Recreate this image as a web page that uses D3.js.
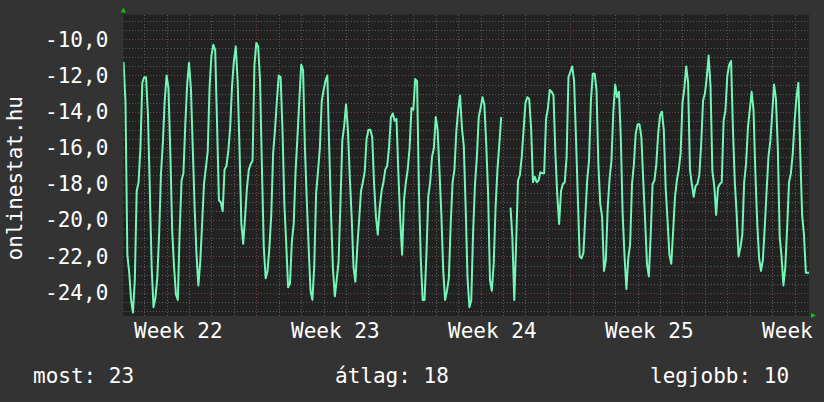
<!DOCTYPE html>
<html>
<head>
<meta charset="utf-8">
<script src="https://cdn.jsdelivr.net/npm/d3@7"></script>
<style>
  html, body { margin: 0; padding: 0; background: #333333; }
  svg { display: block; }
</style>
</head>
<body>
<div id="chart"></div>
<script>
// rank values sampled every 2 hours, one row per day,
// starting Tue 29 May 2012 00:00 (ISO week 22)
const startTime = Date.UTC(2012, 4, 29, 0, 0);
const stepHours = 2;
const ranks = [
  -11.3, -11.3, -13.5, -21.9, -22.9, -24.4, -25.1, -23.3, -18.4, -17.9, -16.0, -12.4,
  -12.1, -12.1, -14.1, -18.2, -22.6, -24.8, -24.3, -23.2, -20.8, -17.4, -15.7, -13.4,
  -12.0, -12.7, -16.3, -20.6, -22.6, -24.1, -24.4, -20.6, -17.8, -17.4, -14.7, -12.5,
  -11.3, -12.7, -16.0, -19.3, -21.9, -23.6, -22.3, -20.2, -18.0, -17.1, -16.2, -12.6,
  -10.9, -10.3, -10.6, -14.7, -18.9, -19.0, -19.5, -17.2, -17.0, -16.2, -14.9, -12.6,
  -11.2, -10.4, -12.3, -16.0, -20.2, -21.3, -19.8, -18.2, -17.2, -16.9, -16.7, -11.4,
  -10.2, -10.4, -12.3, -17.1, -21.5, -23.2, -22.8, -21.5, -19.7, -16.3, -15.0, -13.4,
  -12.0, -12.1, -15.0, -19.1, -21.3, -23.7, -23.5, -21.2, -20.2, -17.3, -15.4, -13.4,
  -11.4, -11.7, -16.0, -18.9, -21.5, -23.9, -24.4, -22.5, -18.5, -17.3, -16.0, -13.4,
  -12.8, -12.3, -12.0, -16.0, -19.7, -22.7, -24.2, -23.3, -22.3, -19.1, -15.6, -14.8,
  -13.6, -15.0, -17.6, -19.8, -22.6, -23.4, -21.5, -20.0, -18.4, -17.9, -17.3, -15.5,
  -15.0, -15.0, -15.4, -18.0, -19.8, -20.8, -19.3, -18.4, -17.9, -17.2, -17.0, -16.0,
  -14.3, -14.1, -14.5, -14.4, -17.4, -20.0, -21.9, -18.9, -17.9, -17.2, -16.0, -13.8,
  -13.9, -12.2, -12.3, -18.4, -22.2, -24.4, -24.4, -21.9, -18.7, -17.9, -16.5, -16.0,
  -14.3, -15.0, -17.3, -19.7, -22.8, -24.4, -23.9, -23.2, -20.2, -17.9, -17.2, -15.1,
  -13.9, -13.1, -14.9, -15.9, -19.3, -23.2, -24.8, -24.4, -20.6, -18.0, -16.5, -14.3,
  -13.8, -13.2, -13.6, -15.8, -18.5, -23.3, -23.9, -22.4, -19.3, -17.2, -15.8, -14.3,
  null, null, null, null, -19.3, -21.0, -24.4, -21.3, -17.8, -17.5, -16.5, -15.0,
  -13.5, -13.2, -13.3, -14.9, -17.9, -17.6, -17.9, -17.8, -17.35, -17.4, -17.4, -14.4,
  -13.8, -12.8, -12.9, -13.1, -16.3, -18.6, -20.2, -18.4, -18.0, -17.9, -16.5, -12.1,
  -11.8, -11.5, -12.3, -15.4, -18.7, -22.0, -22.1, -21.8, -19.8, -17.8, -16.7, -13.4,
  -11.9, -11.9, -12.8, -16.9, -19.1, -19.8, -22.8, -22.2, -19.3, -17.7, -16.7, -14.0,
  -12.5, -13.2, -12.9, -15.4, -19.7, -22.0, -23.8, -22.1, -21.3, -18.0, -16.9, -15.2,
  -14.7, -14.7, -15.4, -17.8, -20.0, -22.4, -23.1, -20.8, -18.0, -17.8, -16.9, -15.2,
  -14.2, -14.0, -15.0, -18.2, -20.0, -21.9, -22.4, -20.6, -18.7, -17.8, -17.2, -16.3,
  -13.5, -12.7, -11.5, -12.4, -17.2, -18.0, -18.7, -18.1, -18.0, -17.5, -15.8, -13.4,
  -13.0, -12.1, -10.9, -12.6, -17.3, -18.1, -19.7, -18.2, -18.0, -17.9, -14.5, -13.9,
  -12.0, -11.4, -11.2, -15.0, -17.9, -19.7, -22.0, -21.5, -20.8, -17.9, -16.9, -14.9,
  -13.9, -12.9, -13.9, -17.4, -20.2, -22.1, -22.8, -22.2, -20.4, -18.4, -16.5, -15.6,
  -14.1, -12.5, -13.3, -16.0, -20.9, -22.0, -23.6, -22.6, -20.4, -17.9, -17.4, -16.3,
  -14.5, -13.2, -12.4, -16.3, -19.7, -20.8, -22.9, -22.9, -22.9
];

const yLabelValues = [-24, -22, -20, -18, -16, -14, -12, -10];
const yMinorValues = d3.range(-25, -8.9, 0.5);
const axisTitle = 'onlinestat.hu';
const legendLabels = ['most: 23', 'átlag: 18', 'legjobb: 10'];

const width = 824, height = 402;
const margin = { top: 14.5, right: 15, bottom: 86, left: 123.3 };
const plotW = width - margin.left - margin.right;
const plotH = height - margin.top - margin.bottom;
const font = '"DejaVu Sans Mono", monospace';

const data = ranks.map((v, i) => ({ t: new Date(startTime + i * stepHours * 3600e3), v: v }));

const x = d3.scaleUtc()
  .domain([new Date(Date.UTC(2012, 4, 29, 1, 40)), new Date(Date.UTC(2012, 5, 28, 15, 22))])
  .range([0, plotW]);
const y = d3.scaleLinear()
  .domain([-25.29, -8.63])
  .range([plotH, 0]);

const svg = d3.select('#chart').append('svg')
  .attr('width', width)
  .attr('height', height);

svg.append('rect').attr('width', width).attr('height', height).attr('fill', '#333333');

const g = svg.append('g').attr('transform', 'translate(' + margin.left + ',' + margin.top + ')');

g.append('rect').attr('width', plotW).attr('height', plotH).attr('fill', '#222222');

// grid
const minorX = d3.utcDay.range(x.domain()[0], x.domain()[1]);
const majorX = d3.utcMonday.range(x.domain()[0], x.domain()[1]);

const gridStyle = (sel, color) => {
  sel.select('.domain').remove();
  sel.selectAll('text').remove();
  sel.selectAll('line')
    .attr('stroke', color)
    .attr('stroke-dasharray', '1,2')
    .attr('shape-rendering', 'crispEdges');
};

g.append('g')
  .call(d3.axisLeft(y).tickValues(yMinorValues.filter(v => yLabelValues.indexOf(v) < 0)).tickSize(-plotW))
  .call(gridStyle, '#5a5a5a');
g.append('g')
  .call(d3.axisLeft(y).tickValues(yLabelValues).tickSize(-plotW))
  .call(gridStyle, '#7a4040');
g.append('g')
  .attr('transform', 'translate(0,' + plotH + ')')
  .call(d3.axisBottom(x).tickValues(minorX.filter(d => d.getUTCDay() !== 1)).tickSize(-plotH - 2))
  .call(gridStyle, '#5a5a5a');
g.append('g')
  .attr('transform', 'translate(0,' + plotH + ')')
  .call(d3.axisBottom(x).tickValues(majorX).tickSize(-plotH - 2))
  .call(gridStyle, '#7a4040');

// y labels
const yAxis = g.append('g')
  .call(d3.axisLeft(y).tickValues(yLabelValues).tickSize(0).tickPadding(15)
    .tickFormat(d => d3.format('.1f')(d).replace('.', ',').replace('−', '-')));
yAxis.select('.domain').remove();
yAxis.selectAll('text')
  .attr('fill', '#ffffff')
  .attr('font-family', font)
  .attr('font-size', 21);

// week labels at mid-week
const weekMids = d3.utcMonday.range(d3.utcMonday.floor(x.domain()[0]), x.domain()[1])
  .map(d => d3.utcHour.offset(d, 84));
const xAxis = g.append('g')
  .attr('transform', 'translate(0,' + plotH + ')')
  .call(d3.axisBottom(x).tickValues(weekMids).tickSize(0).tickPadding(7)
    .tickFormat(d3.utcFormat('Week %V')));
xAxis.select('.domain').remove();
xAxis.selectAll('text')
  .attr('fill', '#ffffff')
  .attr('font-family', font)
  .attr('font-size', 21);

// series
g.append('clipPath').attr('id', 'clip')
  .append('rect').attr('width', plotW).attr('height', plotH);

const line = d3.line()
  .defined(d => d.v !== null)
  .x(d => x(d.t))
  .y(d => y(d.v));

g.append('path')
  .datum(data)
  .attr('clip-path', 'url(#clip)')
  .attr('fill', 'none')
  .attr('stroke', '#72f7b8')
  .attr('stroke-width', 2)
  .attr('stroke-linejoin', 'round')
  .attr('d', line);

// axis arrows
svg.append('path')
  .attr('d', 'M' + (margin.left - 2.5) + ',' + (margin.top - 2) + 'l2.5,-5l2.5,5z')
  .attr('fill', '#00cc00');
svg.append('path')
  .attr('d', 'M' + (margin.left + plotW + 2) + ',' + (margin.top + plotH - 3) + 'l5,2.5l-5,2.5z')
  .attr('fill', '#00cc00');

// axis title
svg.append('text')
  .attr('transform', 'translate(22,' + (margin.top + plotH / 2 + 13) + ') rotate(-90)')
  .attr('text-anchor', 'middle')
  .attr('fill', '#ffffff')
  .attr('font-family', font)
  .attr('font-size', 21)
  .text(axisTitle);

// legend
const legendX = [33, 335, 650];
svg.selectAll('.legend')
  .data(legendLabels)
  .enter()
  .append('text')
  .attr('class', 'legend')
  .attr('x', (d, i) => legendX[i])
  .attr('y', 383)
  .attr('fill', '#ffffff')
  .attr('font-family', font)
  .attr('font-size', 21)
  .text(d => d);
</script>
</body>
</html>
